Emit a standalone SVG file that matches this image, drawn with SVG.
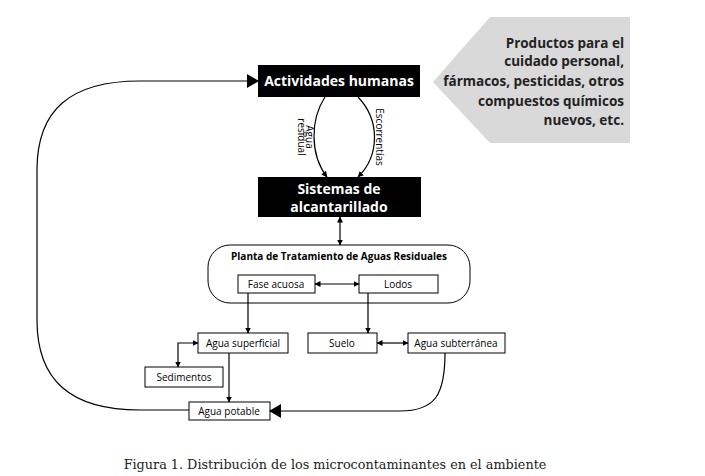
<svg xmlns="http://www.w3.org/2000/svg" width="705" height="476" viewBox="0 0 705 476">
<style>
.b{fill:#000}
.bt{font-family:"Open Sans","Liberation Sans",sans-serif;font-weight:bold;fill:#fff;font-size:14px;text-anchor:middle}
.w{fill:#fff;stroke:#000;stroke-width:1}
.t{font-family:"Open Sans","Liberation Sans",sans-serif;font-size:10px;fill:#000;text-anchor:middle}
.c{fill:none;stroke:#000;stroke-width:1.2}
</style>
<defs>
<marker id="a" markerWidth="6" markerHeight="6" refX="5.5" refY="3" orient="auto-start-reverse" markerUnits="userSpaceOnUse"><path d="M0,0 L6,3 L0,6 z" fill="#000"/></marker>
<marker id="A" markerWidth="12" markerHeight="14" refX="11" refY="7" orient="auto" markerUnits="userSpaceOnUse"><path d="M0,0 L12,7 L0,14 z" fill="#000"/></marker>
</defs>
<rect width="705" height="476" fill="#fff"/>
<g id="productos">
<polygon points="433,82 490,17 630,17 630,143 490,143" fill="#d9d9d9"/>
<g font-family="'Open Sans','Liberation Sans',sans-serif" font-weight="bold" font-size="13.5" text-anchor="end" fill="#222">
<text x="624" y="48">Productos para el</text>
<text x="624" y="66">cuidado personal,</text>
<text x="624" y="86">fármacos, pesticidas, otros</text>
<text x="624" y="106">compuestos químicos</text>
<text x="624" y="125">nuevos, etc.</text>
</g>
</g>
<g id="actividades"><rect x="258" y="65" width="162" height="32" class="b"/><text class="bt" x="339" y="86">Actividades humanas</text></g>
<g id="sistemas"><rect x="258" y="177" width="163" height="40" class="b"/><text class="bt" x="339" y="194">Sistemas de</text><text class="bt" x="339" y="212">alcantarillado</text></g>
<g id="ptar"><rect x="208" y="245" width="262" height="58" rx="22" class="w"/><text class="t" x="339" y="260" font-weight="bold">Planta de Tratamiento de Aguas Residuales</text></g>
<g id="fase"><rect x="238" y="275" width="77" height="18" class="w"/><text class="t" x="276" y="288">Fase acuosa</text></g>
<g id="lodos"><rect x="359" y="275" width="79" height="18" class="w"/><text class="t" x="398" y="288">Lodos</text></g>
<g id="superficial"><rect x="198" y="333" width="90" height="20" class="w"/><text class="t" x="243" y="347">Agua superficial</text></g>
<g id="suelo"><rect x="308" y="333" width="69" height="20" class="w"/><text class="t" x="342" y="347">Suelo</text></g>
<g id="subterranea"><rect x="408" y="333" width="97" height="20" class="w"/><text class="t" x="456" y="347">Agua subterránea</text></g>
<g id="sedimentos"><rect x="145" y="367" width="78" height="20" class="w"/><text class="t" x="184" y="381">Sedimentos</text></g>
<g id="potable"><rect x="189" y="402" width="81" height="18" class="w"/><text class="t" x="229" y="415">Agua potable</text></g>
<g id="connectors">
<path class="c" d="M325,97 C310,120 310,155 327,177" marker-end="url(#a)"/>
<path class="c" d="M358,97 C380,120 380,155 358,177" marker-end="url(#a)"/>
<text class="t" font-size="7" transform="translate(306,137) rotate(90)">Agua</text>
<text class="t" font-size="7" transform="translate(298,137) rotate(90)">residual</text>
<text class="t" font-size="7" transform="translate(376,137) rotate(90)">Escorrentías</text>
<path class="c" d="M340,217 L340,245" marker-start="url(#a)" marker-end="url(#a)"/>
<path class="c" d="M315,284 L359,284" marker-start="url(#a)" marker-end="url(#a)"/>
<path class="c" d="M248,293 L248,333" marker-end="url(#a)"/>
<path class="c" d="M368,293 L368,333" marker-end="url(#a)"/>
<path class="c" d="M377,343 L408,343" marker-start="url(#a)" marker-end="url(#a)"/>
<path class="c" d="M198,343 L178,343 L178,367" marker-start="url(#a)" marker-end="url(#a)"/>
<path class="c" d="M229,353 L229,402" marker-end="url(#a)"/>
<path class="c" d="M445,353 C445,395 435,411 400,411 L270,411" marker-end="url(#A)"/>
<path class="c" d="M189,410 L140,410 C70,410 37,380 37,320 L37,170 C37,110 70,81 140,81 L258,81" marker-end="url(#A)"/>
</g>
<text x="335" y="469" font-family="'DejaVu Serif','Liberation Serif',serif" font-size="12.8" text-anchor="middle" fill="#222">Figura 1. Distribución de los microcontaminantes en el ambiente</text>
</svg>
